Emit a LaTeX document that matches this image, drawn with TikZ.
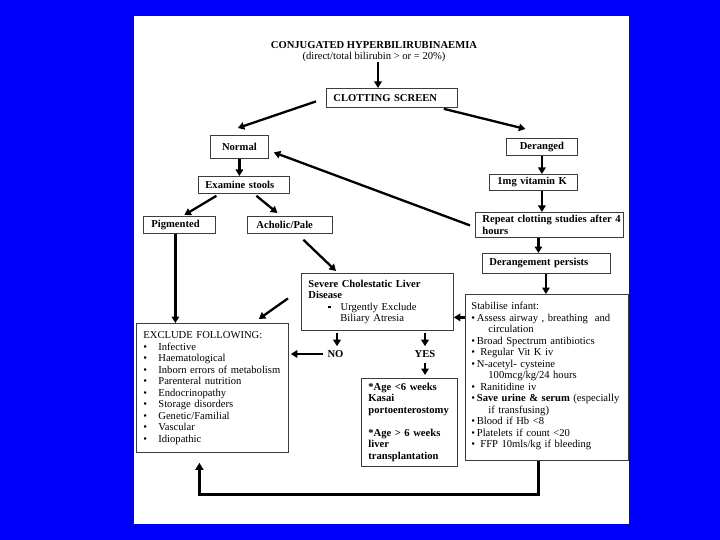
\documentclass[tikz,border=0pt]{standalone}
\usepackage{fontspec}
\setmainfont{Liberation Serif}
\usetikzlibrary{calc,arrows.meta}
\newcommand\fs{\fontsize{10.6}{11.5}\selectfont}
\newcommand\bul{\makebox[15pt][l]{\textbullet}}
\newcommand\sq{\rule[1.8pt]{2.8pt}{2.8pt}}
\newcommand\lnn[1]{\mbox{#1}}
\definecolor{bgblue}{RGB}{0,0,250}
\definecolor{boxline}{RGB}{60,60,60}
\begin{document}
\begin{tikzpicture}[x=1pt,y=-1pt,
  box/.style={draw=boxline, line width=0.8pt, fill=white, anchor=north west,
    inner ysep=0pt, font=\fs},
  lbox/.style={box, align=left},
  cbox/.style={box, align=center},
  lab/.style={font=\fs\bfseries, inner sep=1pt},
  arr/.style={line width=2.3pt, -{Triangle[length=6.5pt,width=7.5pt]}},
  arrT/.style={line width=3pt, -{Triangle[length=7pt,width=8pt]}}
]
\useasboundingbox (0,0) rectangle (720,540);
\fill[bgblue] (0,0) rectangle (720,540);
\fill[white] (134,16) rectangle (629,524);

% title
\node[font=\fs, align=center, inner sep=0pt] (title) at (374,51.5)
  {\textbf{CONJUGATED HYPERBILIRUBINAEMIA}\\(direct/total bilirubin > or = 20\%)};

% boxes
\node[lbox, minimum width=131pt, minimum height=19pt, inner xsep=7pt, text width=117pt] (clot) at (326,88) {\textbf{CLOTTING SCREEN}};
\node[cbox, minimum width=58pt, minimum height=23pt, inner xsep=2pt, text width=54pt] (normal) at (210,135) {\textbf{Normal}};
\node[cbox, minimum width=71pt, minimum height=17pt, inner xsep=2pt, text width=67pt] (der) at (506,138) {\textbf{Deranged}};
\node[lbox, minimum width=91pt, minimum height=17pt, inner xsep=7pt, text width=77pt] (exam) at (198,176) {\textbf{Examine stools}};
\node[lbox, minimum width=88pt, minimum height=16pt, inner xsep=8pt, text width=72pt] (vitk) at (489,174) {\textbf{1mg vitamin K}};
\node[lbox, minimum width=148pt, minimum height=25pt, inner xsep=7pt, text width=134pt] (rep) at (475,212) {\textbf{\lnn{Repeat clotting studies after 4}}\\\textbf{hours}};
\node[lbox, minimum width=72pt, minimum height=17pt, inner xsep=8pt, text width=56pt] (pig) at (143,216) {\textbf{Pigmented}};
\node[lbox, minimum width=85pt, minimum height=17pt, inner xsep=9pt, text width=67pt] (ach) at (247,216) {\textbf{Acholic/Pale}};
\node[lbox, minimum width=128pt, minimum height=20pt, inner xsep=7pt, text width=114pt] (derp) at (482,253) {\textbf{Derangement persists}};
\node[lbox, minimum width=152pt, minimum height=57pt, inner xsep=7pt, text width=138pt] (sev) at (301,273)
  {\textbf{\lnn{Severe Cholestatic Liver}}\\\textbf{Disease}\\\lnn{\hspace*{20pt}\sq\hspace*{9.5pt}Urgently Exclude}\\\lnn{\hspace*{32pt}Biliary Atresia}};
\node[lbox, minimum width=152pt, minimum height=129pt, inner xsep=7pt, text width=138pt] (excl) at (136,323)
  {\lnn{EXCLUDE FOLLOWING:}\\
   \bul Infective\\
   \bul Haematological\\
   \lnn{\bul Inborn errors of metabolism}\\
   \bul Parenteral nutrition\\
   \bul Endocrinopathy\\
   \bul Storage disorders\\
   \bul Genetic/Familial\\
   \bul Vascular\\
   \bul Idiopathic};
\node[lbox, minimum width=163pt, minimum height=166pt, inner xsep=6pt, text width=151pt] (stab) at (465,294)
  {\lnn{Stabilise infant:}\\
   \lnn{\textbullet\,Assess airway , breathing\ \ and}\\
   \lnn{\hspace*{17pt}circulation}\\
   \lnn{\textbullet\,Broad Spectrum antibiotics}\\
   \lnn{\textbullet\ \,Regular Vit K iv}\\
   \lnn{\textbullet\,N-acetyl- cysteine}\\
   \lnn{\hspace*{17pt}100mcg/kg/24 hours}\\
   \lnn{\textbullet\ \,Ranitidine iv}\\
   \lnn{\textbullet\,\textbf{Save urine \& serum} (especially}\\
   \lnn{\hspace*{17pt}if transfusing)}\\
   \lnn{\textbullet\,Blood if Hb <8}\\
   \lnn{\textbullet\,Platelets if count <20}\\
   \lnn{\textbullet\ \,FFP 10mls/kg if bleeding}\\[-7pt]\mbox{}};
\node[lbox, minimum width=96pt, minimum height=88pt, inner xsep=7pt, text width=82pt] (age) at (361,378)
  {\textbf{*Age <6 weeks}\\\textbf{Kasai}\\\textbf{\lnn{portoenterostomy}}\\[11.5pt]\textbf{*Age > 6 weeks}\\\textbf{liver}\\\textbf{\lnn{transplantation}}};

\node[lab] (no) at (335.5,354) {NO};
\node[lab] (yes) at (425,354) {YES};

% connectors
\draw[arr] ([xshift=4pt]title.south) -- ([xshift=4pt]title.south |- clot.north);
\draw[arr] ($(clot.west)+(-10,3.5)$) -- ($(normal.north east)+(-31,-7)$);
\draw[arr] ($(clot.south east)+(-14,1)$) -- ($(der.north)+(-16.5,-9)$);
\draw[arr] (normal.south) -- (normal.south |- exam.north);
\draw[arr] (der.south) -- (der.south |- vitk.north);
\draw[arr] (der.south |- vitk.south) -- (der.south |- rep.north);
\draw[arr] ($(rep.west)+(-5,0.5)$) -- ($(normal.east)+(5,5.5)$);
\draw[arr] ($(exam.south)+(-27.5,2)$) -- ($(pig.north)+(5,-1)$);
\draw[arr] ($(exam.south)+(12.5,2)$) -- ($(ach.north)+(-12.5,-3)$);
\draw[arr] ([xshift=-4pt]pig.south) -- ([xshift=-4pt]pig.south |- excl.north);
\draw[arr] ($(ach.south)+(13.5,6)$) -- ($(sev.north west)+(35,-2)$);
\draw[arr] ([xshift=-3.5pt]der.south |- rep.south) -- ([xshift=-3.5pt]der.south |- derp.north);
\draw[arr] ([xshift=-0.5pt]derp.south) -- ([xshift=-0.5pt]derp.south |- stab.north);
\coordinate (s1) at ($(sev.east)+(0,15.5)$);
\draw[arr] (stab.west |- s1) -- (s1);
\draw[arr] ($(sev.west)+(-13,-3.5)$) -- ($(excl.north east)+(-30,-4)$);
\draw[arr, shorten <=2pt, shorten >=3pt] ([xshift=1.5pt]no.north |- sev.south) -- ([xshift=1.5pt]no.north);
\draw[arr, shorten <=3pt, shorten >=2pt] (no.west) -- (no.west -| excl.east);
\draw[arr, shorten <=2pt, shorten >=3pt] (yes.north |- sev.south) -- (yes.north);
\draw[arr, shorten <=4pt, shorten >=3pt] (yes.south) -- (yes.south |- age.north);
\draw[arrT] ($(stab.south)+(-8.5,0)$) -- ++(0,34) -| ($(excl.south)+(-13,10)$);
\end{tikzpicture}
\end{document}
